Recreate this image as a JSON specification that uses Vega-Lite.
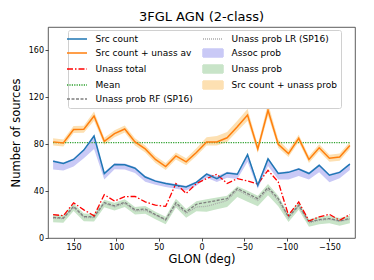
{
  "$schema": "https://vega.github.io/schema/vega-lite/v6.json",
  "width": 307,
  "height": 211,
  "autosize": {"type": "none"},
  "padding": {"left": 48, "top": 27, "right": 19, "bottom": 42},
  "background": "white",
  "title": {"text": "3FGL AGN (2-class)", "fontSize": 13, "font": "DejaVu Sans", "fontWeight": "normal", "color": "black", "frame": "group", "offset": 3},
  "data": {"values": [
    {"glon": 174, "src": 65.5, "av": 82, "tot": 20, "rf": 17.5, "lr": 17, "alo": 58.5, "ahi": 66.5, "ulo": 13.5, "uhi": 20, "slo": 79, "shi": 85, "mean": 81.3},
    {"glon": 162, "src": 63.5, "av": 81, "tot": 19, "rf": 17, "lr": 16.5, "alo": 57.5, "ahi": 64.5, "ulo": 13, "uhi": 19.5, "slo": 78, "shi": 84, "mean": 81.3},
    {"glon": 150, "src": 67, "av": 92.6, "tot": 30, "rf": 27, "lr": 26, "alo": 61, "ahi": 68, "ulo": 23, "uhi": 29.5, "slo": 89.6, "shi": 95.6, "mean": 81.3},
    {"glon": 138, "src": 75, "av": 92.8, "tot": 24, "rf": 18.3, "lr": 17.5, "alo": 68, "ahi": 76, "ulo": 14.3, "uhi": 20.8, "slo": 89.8, "shi": 95.8, "mean": 81.3},
    {"glon": 126, "src": 87, "av": 104, "tot": 19, "rf": 18, "lr": 17.5, "alo": 76, "ahi": 88, "ulo": 14, "uhi": 20.5, "slo": 100, "shi": 108, "mean": 81.3},
    {"glon": 114, "src": 55, "av": 82.5, "tot": 37, "rf": 30.2, "lr": 29.5, "alo": 50, "ahi": 56, "ulo": 26.2, "uhi": 32.7, "slo": 79.5, "shi": 85.5, "mean": 81.3},
    {"glon": 102, "src": 62.7, "av": 89, "tot": 31.5, "rf": 27.5, "lr": 26.5, "alo": 58.7, "ahi": 63.7, "ulo": 23.5, "uhi": 30, "slo": 86, "shi": 92, "mean": 81.3},
    {"glon": 90, "src": 62.5, "av": 93, "tot": 35.3, "rf": 30.5, "lr": 29.5, "alo": 58.5, "ahi": 63.5, "ulo": 26.5, "uhi": 33, "slo": 90, "shi": 96, "mean": 81.3},
    {"glon": 78, "src": 59.5, "av": 82, "tot": 35.5, "rf": 24, "lr": 23, "alo": 55.5, "ahi": 60.5, "ulo": 20, "uhi": 26.5, "slo": 79, "shi": 85, "mean": 81.3},
    {"glon": 66, "src": 52, "av": 76, "tot": 30.8, "rf": 24.7, "lr": 23.5, "alo": 48, "ahi": 53, "ulo": 20.7, "uhi": 27.2, "slo": 73, "shi": 79, "mean": 81.3},
    {"glon": 54, "src": 48.5, "av": 67, "tot": 28, "rf": 20, "lr": 19.5, "alo": 45.5, "ahi": 49.5, "ulo": 16, "uhi": 22.5, "slo": 64, "shi": 70, "mean": 81.3},
    {"glon": 42, "src": 46.5, "av": 61, "tot": 27, "rf": 15.7, "lr": 15, "alo": 43.5, "ahi": 47.5, "ulo": 11.7, "uhi": 18.2, "slo": 58, "shi": 64, "mean": 81.3},
    {"glon": 30, "src": 45, "av": 70, "tot": 46.5, "rf": 30, "lr": 28.5, "alo": 42, "ahi": 46, "ulo": 26, "uhi": 33.5, "slo": 67, "shi": 73, "mean": 81.3},
    {"glon": 18, "src": 43.6, "av": 65, "tot": 38, "rf": 22.2, "lr": 21, "alo": 40.6, "ahi": 44.6, "ulo": 17.2, "uhi": 24.7, "slo": 62, "shi": 68, "mean": 81.3},
    {"glon": 6, "src": 47.5, "av": 73, "tot": 46.5, "rf": 28.8, "lr": 26.5, "alo": 44.5, "ahi": 48.5, "ulo": 22.8, "uhi": 31.3, "slo": 70, "shi": 76.5, "mean": 81.3},
    {"glon": -6, "src": 54.5, "av": 82, "tot": 50.7, "rf": 30.5, "lr": 27, "alo": 51.5, "ahi": 55.5, "ulo": 22.5, "uhi": 33, "slo": 79, "shi": 86, "mean": 81.3},
    {"glon": -18, "src": 50.7, "av": 82, "tot": 54.4, "rf": 32, "lr": 29.5, "alo": 47.7, "ahi": 52.7, "ulo": 24.5, "uhi": 34.5, "slo": 79, "shi": 87, "mean": 81.3},
    {"glon": -30, "src": 55.5, "av": 85.5, "tot": 46.5, "rf": 33.6, "lr": 32, "alo": 51.5, "ahi": 56.5, "ulo": 26.5, "uhi": 36.1, "slo": 82, "shi": 90.5, "mean": 81.3},
    {"glon": -42, "src": 54.4, "av": 95, "tot": 50.7, "rf": 42.2, "lr": 41, "alo": 50.4, "ahi": 55.4, "ulo": 35, "uhi": 44.2, "slo": 91, "shi": 100, "mean": 81.3},
    {"glon": -54, "src": 71, "av": 105, "tot": 48.7, "rf": 37.9, "lr": 36.5, "alo": 65, "ahi": 72, "ulo": 31, "uhi": 40.4, "slo": 100, "shi": 110, "mean": 81.3},
    {"glon": -66, "src": 45, "av": 76, "tot": 46, "rf": 33.6, "lr": 32, "alo": 42, "ahi": 46, "ulo": 27, "uhi": 36.1, "slo": 72.5, "shi": 79.5, "mean": 81.3},
    {"glon": -78, "src": 67.5, "av": 109, "tot": 57.8, "rf": 43, "lr": 41.5, "alo": 61.5, "ahi": 68.5, "ulo": 36.5, "uhi": 46, "slo": 104, "shi": 115, "mean": 81.3},
    {"glon": -90, "src": 55, "av": 80, "tot": 47.8, "rf": 33.6, "lr": 32, "alo": 50, "ahi": 56, "ulo": 27, "uhi": 36.1, "slo": 77, "shi": 84, "mean": 81.3},
    {"glon": -102, "src": 56, "av": 72, "tot": 19.4, "rf": 18, "lr": 17, "alo": 50, "ahi": 57, "ulo": 13.7, "uhi": 20.5, "slo": 69, "shi": 75, "mean": 81.3},
    {"glon": -114, "src": 58.8, "av": 85, "tot": 30.8, "rf": 28, "lr": 27, "alo": 52.8, "ahi": 59.8, "ulo": 24, "uhi": 30.5, "slo": 82, "shi": 88, "mean": 81.3},
    {"glon": -126, "src": 55, "av": 67, "tot": 14.5, "rf": 13.7, "lr": 13, "alo": 50, "ahi": 56, "ulo": 9.5, "uhi": 16, "slo": 64, "shi": 70, "mean": 81.3},
    {"glon": -138, "src": 62, "av": 77, "tot": 18, "rf": 15.7, "lr": 15, "alo": 56, "ahi": 63, "ulo": 11.7, "uhi": 18.2, "slo": 74, "shi": 80, "mean": 81.3},
    {"glon": -150, "src": 53.6, "av": 68, "tot": 20.2, "rf": 16.6, "lr": 16, "alo": 47.6, "ahi": 54.6, "ulo": 12.6, "uhi": 19.1, "slo": 65, "shi": 71, "mean": 81.3},
    {"glon": -162, "src": 56, "av": 69, "tot": 15.1, "rf": 14.5, "lr": 14, "alo": 51, "ahi": 57, "ulo": 10.5, "uhi": 17, "slo": 66, "shi": 72, "mean": 81.3},
    {"glon": -174, "src": 63, "av": 79, "tot": 20, "rf": 16.6, "lr": 16, "alo": 58, "ahi": 64, "ulo": 12.6, "uhi": 19.1, "slo": 76, "shi": 82, "mean": 81.3}
  ]},
  "encoding": {
    "x": {"field": "glon", "type": "quantitative", "title": "GLON (deg)",
      "scale": {"domain": [-180, 180], "reverse": true, "nice": false, "zero": false},
      "axis": {"values": [150, 100, 50, 0, -50, -100, -150], "labelExpr": "datum.value < 0 ? '\u2212' + abs(datum.value) : datum.label", "labelPadding": 2, "titlePadding": 2}}
  },
  "layer": [
    {"mark": {"type": "area", "opacity": 1},
     "encoding": {"y": {"field": "alo", "type": "quantitative", "title": "Number of sources",
        "scale": {"domain": [0, 180], "nice": false},
        "axis": {"values": [0, 20, 40, 60, 80, 100, 120, 140, 160, 180], "labelPadding": 1.5, "titlePadding": 7}},
      "y2": {"field": "ahi"},
      "color": {"datum": "Assoc prob", "type": "nominal",
        "scale": {"domain": ["Src count", "Src count + unass av", "Unass total", "Mean", "Unass prob RF (SP16)", "Unass prob LR (SP16)", "Assoc prob", "Unass prob", "Src count + unass prob"],
                  "range": ["#1f77b4", "#ff7f0e", "#ff0000", "#2ca02c", "#7f7f7f", "#aaaaaa", "#c9c9f6", "#c8e4c8", "#fde0b2"]}}
     }},
    {"mark": {"type": "area", "opacity": 1},
     "encoding": {"y": {"field": "ulo", "type": "quantitative"}, "y2": {"field": "uhi"}, "color": {"datum": "Unass prob", "type": "nominal"}}},
    {"mark": {"type": "area", "opacity": 1},
     "encoding": {"y": {"field": "slo", "type": "quantitative"}, "y2": {"field": "shi"}, "color": {"datum": "Src count + unass prob", "type": "nominal"}}},
    {"mark": {"type": "line", "strokeWidth": 1.3, "strokeDash": [1.2, 1.2]},
     "encoding": {"y": {"field": "mean", "type": "quantitative"}, "color": {"datum": "Mean", "type": "nominal"}}},
    {"mark": {"type": "line", "strokeWidth": 1.3, "strokeDash": [1, 1]},
     "encoding": {"y": {"field": "lr", "type": "quantitative"}, "color": {"datum": "Unass prob LR (SP16)", "type": "nominal"}}},
    {"mark": {"type": "line", "strokeWidth": 1.3, "strokeDash": [3, 1.5]},
     "encoding": {"y": {"field": "rf", "type": "quantitative"}, "color": {"datum": "Unass prob RF (SP16)", "type": "nominal"}}},
    {"mark": {"type": "line", "strokeWidth": 1.3, "strokeDash": [6, 2, 1.5, 2]},
     "encoding": {"y": {"field": "tot", "type": "quantitative"}, "color": {"datum": "Unass total", "type": "nominal"}}},
    {"mark": {"type": "line", "strokeWidth": 1.5},
     "encoding": {"y": {"field": "av", "type": "quantitative"}, "color": {"datum": "Src count + unass av", "type": "nominal"}}},
    {"mark": {"type": "line", "strokeWidth": 1.5},
     "encoding": {"y": {"field": "src", "type": "quantitative"}, "color": {"datum": "Src count", "type": "nominal"}}}
  ],
  "config": {
    "font": "DejaVu Sans",
    "view": {"stroke": "#333333", "strokeWidth": 0.8},
    "axis": {"grid": false, "domain": false, "tickColor": "#222222", "tickSize": 3, "tickWidth": 0.8,
      "labelFont": "DejaVu Sans", "labelFontSize": 8, "labelColor": "black",
      "titleFont": "DejaVu Sans", "titleFontSize": 11.5, "titleFontWeight": "normal", "titleColor": "black"},
    "legend": {"orient": "none", "legendX": 20, "legendY": 3, "columns": 2, "columnPadding": 7, "title": null,
      "symbolSize": 64, "labelFontSize": 9, "labelFont": "DejaVu Sans", "labelColor": "black", "labelOffset": 13.6, "labelLimit": 250,
      "rowPadding": 2, "padding": 4, "strokeColor": "#d0d0d0", "fillColor": "white", "cornerRadius": 2, "symbolStrokeWidth": 1.5,
      "symbolType": {"expr": "indexof(['Assoc prob','Unass prob','Src count + unass prob'], datum.value) >= 0 ? 'M-2.5,-1H2.5V1H-2.5Z' : 'M-2.5,0H2.5'"},
      "symbolDash": {"expr": "datum.value == 'Unass total' ? [6,2,1.5,2] : datum.value == 'Mean' ? [1.2,1.2] : datum.value == 'Unass prob RF (SP16)' ? [3,1.5] : datum.value == 'Unass prob LR (SP16)' ? [1,1] : [1,0]"}
    }
  }
}
